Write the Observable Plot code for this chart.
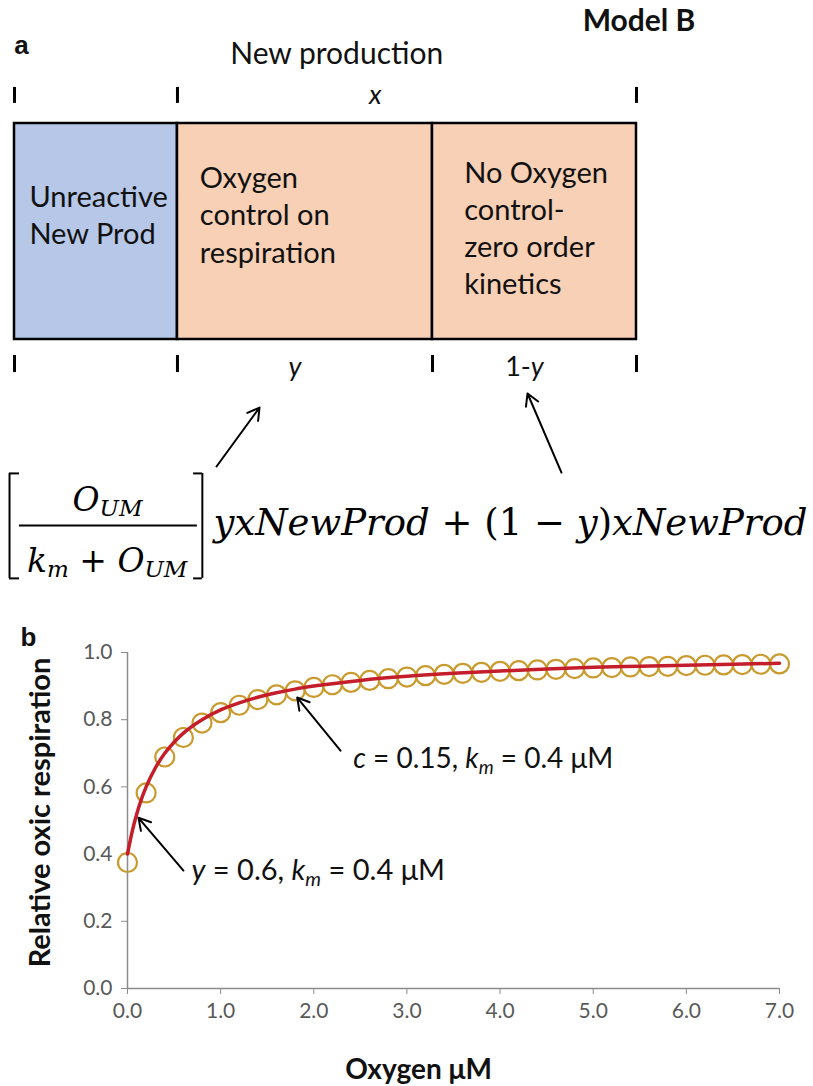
<!DOCTYPE html>
<html>
<head>
<meta charset="utf-8">
<script src="https://cdn.jsdelivr.net/npm/d3@7"></script>
<script src="https://cdn.jsdelivr.net/npm/@observablehq/plot@0.6"></script>
<style>
  body { margin: 0; background: #fff; }
  #fig svg { display: block; }
</style>
</head>
<body>
<div id="fig"></div>
<script>
// ---------- Panel a: how new production is partitioned ----------
const segments = ["Unreactive\nNew Prod", "Oxygen\ncontrol on\nrespiration", "No Oxygen\ncontrol-\nzero order\nkinetics"];
const segmentShares = [0.262, 0.41, 0.328];
const segmentColors = ["#B6C7E8", "#F7D0B5", "#F7D0B5"];
const spanLabels = ["", "y", "1-y"];

// ---------- Panel b: relative oxic respiration vs oxygen ----------
const oxygenPoints = [0.0, 0.2, 0.4, 0.6, 0.8, 1.0, 1.2, 1.4, 1.6, 1.8, 2.0, 2.2, 2.4, 2.6, 2.8, 3.0, 3.2, 3.4,
                      3.6, 3.8, 4.0, 4.2, 4.4, 4.6, 4.8, 5.0, 5.2, 5.4, 5.6, 5.8, 6.0, 6.2, 6.4, 6.6, 6.8, 7.0];
const respirationPoints = [0.375, 0.582, 0.689, 0.747, 0.790, 0.821, 0.843, 0.860, 0.874, 0.886, 0.896, 0.904,
                           0.911, 0.917, 0.922, 0.927, 0.931, 0.935, 0.938, 0.941, 0.944, 0.946, 0.948, 0.950,
                           0.952, 0.954, 0.955, 0.957, 0.958, 0.959, 0.961, 0.962, 0.963, 0.964, 0.965, 0.966];
const oxygenCurve = [0, 0.05, 0.1, 0.15, 0.2, 0.3, 0.4, 0.5, 0.6, 0.8, 1.0, 1.2, 1.4, 1.6, 1.8, 2.0,
                     2.5, 3.0, 3.5, 4.0, 4.5, 5.0, 5.5, 6.0, 6.5, 7.0];
const respirationCurve = [0.400, 0.467, 0.520, 0.564, 0.600, 0.657, 0.700, 0.733, 0.760, 0.800, 0.829, 0.850,
                          0.867, 0.880, 0.891, 0.900, 0.917, 0.929, 0.938, 0.945, 0.951, 0.956, 0.959, 0.962,
                          0.965, 0.968];
const xTicks = [0, 1, 2, 3, 4, 5, 6, 7];
const yTicks = [0, 0.2, 0.4, 0.6, 0.8, 1.0];

const SVGNS = "http://www.w3.org/2000/svg";

// Replace plain text content with styled runs (italics, subscripts).
function applyRuns(svg, table) {
  svg.querySelectorAll("text").forEach(el => {
    const spec = table.get(el.textContent);
    if (!spec) return;
    el.textContent = "";
    let shift = 0;
    for (const r of spec) {
      const ts = document.createElementNS(SVGNS, "tspan");
      ts.textContent = r.t;
      ts.setAttribute("font-style", r.i ? "italic" : "normal");
      const target = r.sub || 0;
      if (target !== shift) { ts.setAttribute("dy", target - shift); shift = target; }
      if (r.size) ts.setAttribute("font-size", r.size);
      el.appendChild(ts);
    }
  });
}

// ---------- Panel a ----------
const bounds = [0, ...d3.cumsum(segmentShares)];
const segs = segments.map((name, i) => ({
  name, x1: bounds[i], x2: bounds[i + 1], fill: segmentColors[i], span: spanLabels[i]
}));
const labelInset = [0.024, 0.036, 0.051];
const labelY = [0.581, 0.583, 0.523];

const eqFont = "DejaVu Serif";
const eqSize = 37, fracSize = 33, subSize = 23;

const panelA = Plot.plot({
  width: 813, height: 590,
  marginTop: 0, marginRight: 0, marginBottom: 0, marginLeft: 0,
  style: { fontFamily: "Lato", background: "#fff", overflow: "visible" },
  color: { type: "identity" },
  x: { domain: [0, 1], range: [14, 636], axis: null },
  y: { domain: [0, 1], range: [339, 123], axis: null },
  marks: [
    Plot.rect(segs, { x1: "x1", x2: "x2", y1: 0, y2: 1, fill: "fill", stroke: "#000", strokeWidth: 2.5 }),
    Plot.text(segs, {
      x: (d, i) => d.x1 + labelInset[i], y: (d, i) => labelY[i], text: "name",
      textAnchor: "start", lineAnchor: "middle", lineHeight: 1.28, fontSize: 29, fill: "#111"
    }),
    // span markers above (new production) and below (y, 1-y)
    Plot.ruleX([bounds[0], bounds[1], bounds[3]], { y1: 1.093, y2: 1.167, stroke: "#000", strokeWidth: 3 }),
    Plot.ruleX(bounds, { y1: -0.153, y2: -0.074, stroke: "#000", strokeWidth: 3 }),
    Plot.text(["x"], { x: 0.58, y: 1.13, fontStyle: "italic", fontSize: 27, fill: "#111" }),
    Plot.text(segs.filter(d => d.span), {
      x: d => (d.x1 + d.x2) / 2, y: -0.13, dx: -10, text: "span", fontStyle: "italic", fontSize: 27, fill: "#111"
    }),
    Plot.text(["New production"], { x: 0.518, y: 1.319, fontSize: 30, fill: "#111" }),
    Plot.text(["Model B"], { x: 1.004, y: 1.472, fontSize: 30, fontWeight: "bold", fill: "#111" }),
    Plot.text(["a"], { x: 0.0113, y: 1.361, fontSize: 26, fontWeight: "bold", fontFamily: "Liberation Sans", fill: "#111" }),
    // arrows from the expression up to the y and 1-y spans
    Plot.arrow([{ x1: 0.3248, y1: -0.588, x2: 0.3939, y2: -0.315 }, { x1: 0.8794, y1: -0.616, x2: 0.8248, y2: -0.25 }],
      { x1: "x1", y1: "y1", x2: "x2", y2: "y2", stroke: "#000", strokeWidth: 2, headLength: 10 }),
    // the rate expression
    Plot.ruleX([-0.008, 0.302], { y1: -0.62, y2: -1.106, stroke: "#000", strokeWidth: 2 }),
    Plot.ruleY([-0.62, -1.106], { x1: -0.008, x2: 0.008, stroke: "#000", strokeWidth: 2 }),
    Plot.ruleY([-0.62, -1.106], { x1: 0.288, x2: 0.302, stroke: "#000", strokeWidth: 2 }),
    Plot.ruleY([-0.861], { x1: 0.008, x2: 0.294, stroke: "#000", strokeWidth: 2 }),
    Plot.text(["OUM"], { x: 0.1495, y: -0.792, lineAnchor: "bottom", fontFamily: eqFont, fontSize: fracSize, fill: "#000" }),
    Plot.text(["km + OUM"], { x: 0.149, y: -1.0787, lineAnchor: "bottom", fontFamily: eqFont, fontSize: fracSize, fill: "#000" }),
    Plot.text(["yxNewProd + (1 − y)xNewProd"], {
      x: 0.3199, y: -0.907, textAnchor: "start", lineAnchor: "bottom", fontFamily: eqFont, fontSize: eqSize, fill: "#000"
    })
  ]
});

applyRuns(panelA, new Map([
  ["1-y", [{ t: "1-" }, { t: "y", i: true }]],
  ["OUM", [{ t: "O", i: true }, { t: "UM", i: true, sub: 5, size: subSize }]],
  ["km + OUM", [{ t: "k", i: true }, { t: "m", i: true, sub: 5, size: subSize }, { t: " + " },
                { t: "O", i: true }, { t: "UM", i: true, sub: 5, size: subSize }]],
  ["yxNewProd + (1 − y)xNewProd", [{ t: "yxNewProd", i: true }, { t: " + (1 − " }, { t: "y", i: true },
                                    { t: ")" }, { t: "xNewProd", i: true }]]
]));

// ---------- Panel b ----------
const pts = oxygenPoints.map((o, i) => ({ o, r: respirationPoints[i] }));
const curve = oxygenCurve.map((o, i) => ({ o, r: respirationCurve[i] }));
const axisGray = "#8c8c8c", labelGray = "#595959";

const panelB = Plot.plot({
  width: 813, height: 496,
  marginTop: 62, marginRight: 34, marginBottom: 98, marginLeft: 127,
  style: { fontFamily: "Lato", background: "#fff", overflow: "visible" },
  x: { domain: [0, 7] },
  y: { domain: [0, 1] },
  marks: [
    Plot.axisY({ ticks: yTicks, tickFormat: d3.format(".1f"), tickSize: 6, tickPadding: 9,
                 stroke: axisGray, fill: labelGray, fontSize: 21, label: null }),
    Plot.axisX({ ticks: xTicks, tickFormat: d3.format(".1f"), tickSize: 6, tickPadding: 9,
                 stroke: axisGray, fill: labelGray, fontSize: 21, label: null }),
    Plot.ruleX([0], { stroke: axisGray, strokeWidth: 1.5 }),
    Plot.ruleY([0], { stroke: axisGray, strokeWidth: 1.5 }),
    Plot.dot(pts, { x: "o", y: "r", r: 9.5, stroke: "#C99A2E", strokeWidth: 2.2, fill: "none" }),
    Plot.line(curve, { x: "o", y: "r", stroke: "#C41E2A", strokeWidth: 3.5, curve: "monotone-x" }),
    Plot.arrow([{ x1: 0.601, y1: 0.351, x2: 0.118, y2: 0.508 }, { x1: 2.287, y1: 0.708, x2: 1.822, y2: 0.866 }],
      { x1: "x1", y1: "y1", x2: "x2", y2: "y2", stroke: "#000", strokeWidth: 2, headLength: 10 }),
    Plot.text(["y = 0.6, km = 0.4 μM"], { x: 0.687, y: 0.351, textAnchor: "start", lineAnchor: "middle", fontSize: 29, fill: "#111" }),
    Plot.text(["c = 0.15, km = 0.4 μM"], { x: 2.423, y: 0.684, textAnchor: "start", lineAnchor: "middle", fontSize: 28, fill: "#111" }),
    Plot.text(["Relative oxic respiration"], {
      frameAnchor: "left", dx: -87, dy: -8, rotate: -90, textAnchor: "middle", lineAnchor: "middle",
      fontSize: 29, fontWeight: "bold", fill: "#111"
    }),
    Plot.text(["Oxygen μM"], {
      frameAnchor: "bottom", dx: -35, dy: 82, textAnchor: "middle", lineAnchor: "middle",
      fontSize: 28, fontWeight: "bold", fill: "#111"
    }),
    Plot.text(["b"], {
      frameAnchor: "top-left", dx: -107, dy: -15, textAnchor: "start", lineAnchor: "middle",
      fontSize: 26, fontWeight: "bold", fontFamily: "Liberation Sans", fill: "#111"
    })
  ]
});

applyRuns(panelB, new Map([
  ["y = 0.6, km = 0.4 μM", [{ t: "y", i: true }, { t: " = 0.6, " }, { t: "k", i: true },
                            { t: "m", i: true, sub: 6, size: 20 }, { t: " = 0.4 μM" }]],
  ["c = 0.15, km = 0.4 μM", [{ t: "c", i: true }, { t: " = 0.15, " }, { t: "k", i: true },
                             { t: "m", i: true, sub: 6, size: 19 }, { t: " = 0.4 μM" }]]
]));

const fig = document.getElementById("fig");
fig.appendChild(panelA);
fig.appendChild(panelB);
</script>
</body>
</html>
